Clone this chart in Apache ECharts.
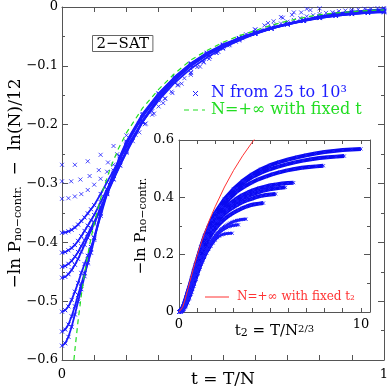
<!DOCTYPE html>
<html><head><meta charset="utf-8">
<script src="https://cdn.jsdelivr.net/npm/echarts/dist/echarts.min.js"></script>
<style>html,body{margin:0;padding:0;background:#fff}#c{width:390px;height:390px}</style>
</head><body><div id="c"></div>
<script>
// ---- data ----
const nValues = [25, 35, 50, 100, 150, 200, 250, 500, 750, 1000];
// -ln P_no-contr. at T = 0..N (small N, every clause count)
const lnP_N25 = [0, 0, 0.006, 0.017, 0.032, 0.050, 0.070, 0.091, 0.113, 0.135, 0.156, 0.174, 0.190, 0.205, 0.218, 0.230, 0.241, 0.251, 0.259, 0.265, 0.269, 0.271, 0.273, 0.274, 0.275, 0.275];
const lnP_N35 = [0, 0, 0.003, 0.009, 0.019, 0.032, 0.046, 0.062, 0.079, 0.097, 0.115, 0.133, 0.150, 0.166, 0.181, 0.195, 0.208, 0.220, 0.231, 0.241, 0.250, 0.258, 0.265, 0.272, 0.278, 0.283, 0.287, 0.291, 0.294, 0.297, 0.299, 0.301, 0.302, 0.303, 0.304, 0.304];
const lnP_N50 = [0, 0.001, 0.004, 0.008, 0.015, 0.024, 0.034, 0.046, 0.058, 0.071, 0.083, 0.098, 0.113, 0.128, 0.143, 0.157, 0.170, 0.182, 0.194, 0.205, 0.215, 0.224, 0.233, 0.241, 0.248, 0.255, 0.261, 0.267, 0.273, 0.278, 0.283, 0.287, 0.291, 0.295, 0.298, 0.301, 0.304, 0.307, 0.310, 0.312, 0.314, 0.316, 0.317, 0.319, 0.320, 0.321, 0.322, 0.323, 0.323, 0.324, 0.324];
// larger N: -ln P_no-contr. sampled at t = T/N
const tGrid = [0, 0.01, 0.02, 0.03, 0.04, 0.05, 0.06, 0.07, 0.08, 0.09, 0.10, 0.12, 0.14, 0.16, 0.18, 0.20, 0.25, 0.30, 0.35, 0.40, 0.45, 0.50, 0.55, 0.60, 0.65, 0.70, 0.75, 0.80, 0.85, 0.90, 0.95, 1.00];
const lnP_N100  = [0, 0.0006, 0.0025, 0.005, 0.009, 0.014, 0.020, 0.026, 0.033, 0.040, 0.047, 0.066, 0.086, 0.106, 0.126, 0.145, 0.189, 0.225, 0.255, 0.279, 0.298, 0.314, 0.327, 0.338, 0.347, 0.355, 0.362, 0.368, 0.373, 0.376, 0.378, 0.380];
const lnP_N150  = [0, 0.001, 0.004, 0.008, 0.013, 0.020, 0.028, 0.037, 0.046, 0.055, 0.064, 0.086, 0.108, 0.130, 0.152, 0.173, 0.222, 0.262, 0.293, 0.318, 0.336, 0.351, 0.363, 0.373, 0.382, 0.389, 0.395, 0.401, 0.405, 0.408, 0.410, 0.412];
const lnP_N200  = [0, 0.0012, 0.005, 0.010, 0.017, 0.025, 0.035, 0.045, 0.056, 0.066, 0.076, 0.101, 0.125, 0.149, 0.172, 0.194, 0.246, 0.286, 0.317, 0.341, 0.360, 0.375, 0.387, 0.397, 0.405, 0.412, 0.418, 0.424, 0.428, 0.431, 0.433, 0.435];
const lnP_N250  = [0, 0.0015, 0.006, 0.013, 0.022, 0.032, 0.044, 0.056, 0.068, 0.080, 0.092, 0.117, 0.142, 0.167, 0.191, 0.214, 0.267, 0.306, 0.337, 0.362, 0.380, 0.395, 0.407, 0.417, 0.425, 0.432, 0.437, 0.442, 0.445, 0.448, 0.450, 0.451];
const lnP_N500  = [0, 0.0025, 0.009, 0.020, 0.034, 0.049, 0.066, 0.081, 0.095, 0.110, 0.125, 0.163, 0.200, 0.231, 0.259, 0.284, 0.331, 0.367, 0.396, 0.420, 0.437, 0.451, 0.463, 0.472, 0.481, 0.488, 0.494, 0.499, 0.503, 0.506, 0.508, 0.510];
const lnP_N750  = [0, 0.0035, 0.012, 0.026, 0.043, 0.062, 0.081, 0.099, 0.116, 0.134, 0.156, 0.200, 0.237, 0.268, 0.296, 0.321, 0.368, 0.404, 0.432, 0.455, 0.473, 0.487, 0.498, 0.507, 0.515, 0.522, 0.528, 0.533, 0.537, 0.540, 0.542, 0.544];
const lnP_N1000 = [0, 0.004, 0.015, 0.032, 0.053, 0.075, 0.096, 0.118, 0.142, 0.164, 0.184, 0.226, 0.264, 0.294, 0.322, 0.347, 0.394, 0.429, 0.457, 0.480, 0.498, 0.512, 0.523, 0.532, 0.540, 0.547, 0.553, 0.558, 0.562, 0.565, 0.567, 0.569];
// N = +infinity with fixed t (main panel, green dashed)
const greenT = [0.037, 0.04, 0.05, 0.06, 0.07, 0.08, 0.09, 0.10, 0.125, 0.15, 0.175, 0.20, 0.25, 0.30, 0.35, 0.40, 0.45, 0.50, 0.55, 0.60, 0.65, 0.70, 0.75, 0.80, 0.85, 0.90, 0.95, 1.00];
const greenY = [-0.600, -0.583, -0.533, -0.490, -0.453, -0.421, -0.393, -0.368, -0.315, -0.274, -0.241, -0.214, -0.172, -0.140, -0.113, -0.090, -0.074, -0.060, -0.049, -0.040, -0.031, -0.024, -0.018, -0.013, -0.010, -0.008, -0.006, -0.005];
// N = +infinity with fixed t2 (inset, red)
const redT2 = [0, 0.1, 0.2, 0.3, 0.4, 0.5, 0.6, 0.8, 1.0, 1.2, 1.4, 1.6, 1.8, 2.0, 2.5, 3.0, 3.5, 4.0, 4.2];
const redY  = [0, 0.005, 0.017, 0.036, 0.059, 0.083, 0.107, 0.154, 0.198, 0.238, 0.275, 0.309, 0.340, 0.369, 0.436, 0.494, 0.545, 0.590, 0.607];
// tick labels
const mainXLabelValues = [0, 1];
const insetXLabelValues = [0, 10];

// ---- build ----
const curves = [
  {n: 25, vals: lnP_N25, grid: null}, {n: 35, vals: lnP_N35, grid: null}, {n: 50, vals: lnP_N50, grid: null},
  {n: 100, vals: lnP_N100, grid: tGrid}, {n: 150, vals: lnP_N150, grid: tGrid}, {n: 200, vals: lnP_N200, grid: tGrid},
  {n: 250, vals: lnP_N250, grid: tGrid}, {n: 500, vals: lnP_N500, grid: tGrid}, {n: 750, vals: lnP_N750, grid: tGrid},
  {n: 1000, vals: lnP_N1000, grid: tGrid}
];
const FONT = 'DejaVu Serif';
const cross = 'path://M0,0L10,10M10,0L0,10';
const crossStyle = {color: 'rgba(0,0,0,0)', borderColor: '#1d1dff', borderWidth: 1};
const series = [];
curves.forEach(c => {
  const L = Math.log(c.n) / 12, s = Math.cbrt(c.n);
  const tt = c.grid ? c.grid : c.vals.map((_, i) => i / c.n);
  const mainData = c.vals.map((v, i) => [tt[i], v - L]);
  const insetData = c.vals.map((v, i) => [tt[i] * s, v]);
  if (c.grid) {
    series.push({type: 'line', xAxisIndex: 0, yAxisIndex: 0, data: mainData, clip: true,
      lineStyle: {color: '#1a1aff', width: 1.8}, symbol: cross, symbolSize: 4, itemStyle: crossStyle, z: 2});
  } else {
    series.push({type: 'scatter', xAxisIndex: 0, yAxisIndex: 0, data: mainData, clip: true,
      symbol: cross, symbolSize: 4, itemStyle: crossStyle, z: 2});
  }
  series.push({type: 'line', xAxisIndex: 2, yAxisIndex: 2, data: insetData, clip: true,
    lineStyle: {color: '#0a0af0', width: c.grid ? 4 : 2.5}, symbol: cross, symbolSize: 3, itemStyle: crossStyle, z: 2});
});
series.push({type: 'line', xAxisIndex: 0, yAxisIndex: 0, data: greenT.map((t, i) => [t, greenY[i]]), clip: true,
  symbol: 'none', lineStyle: {color: '#22dd22', width: 1.2, type: [5, 4]}, z: 5});
series.push({type: 'line', xAxisIndex: 2, yAxisIndex: 2, data: redT2.map((t, i) => [t, redY[i]]), clip: true,
  symbol: 'none', lineStyle: {color: '#ff3333', width: 1}, z: 5});

const AX = '#555';
function baseAxis(extra) {
  return Object.assign({
    type: 'value', splitLine: {show: false}, nameMoveOverlap: false,
    axisLine: {show: true, onZero: false, lineStyle: {color: AX, width: 1}},
    axisTick: {show: true, inside: true, length: 5, lineStyle: {color: AX}},
  }, extra);
}
const lab = {fontFamily: FONT, fontSize: 13, color: '#000'};
const subRich = {s: {fontFamily: FONT, fontSize: 11, verticalAlign: 'bottom', lineHeight: 12, color: '#000'},
                 p: {fontFamily: FONT, fontSize: 10, verticalAlign: 'top', lineHeight: 12, color: '#000'}};

const option = {
  animation: false,
  backgroundColor: '#fff',
  grid: [
    {left: 62, top: 7, width: 322, height: 353, outerBoundsMode: 'none', containLabel: false},
    {left: 179, top: 140, width: 191, height: 172, show: true, backgroundColor: '#fff', borderWidth: 0, outerBoundsMode: 'none', containLabel: false}
  ],
  xAxis: [
    baseAxis({gridIndex: 0, position: 'bottom', min: 0, max: 1, interval: 0.1,
      axisLabel: Object.assign({showMaxLabel: true, showMinLabel: true, margin: 8,
        formatter: v => mainXLabelValues.some(x => Math.abs(x - v) < 1e-9) ? String(Math.round(v)) : ''}, lab),
      name: 't = T/N', nameLocation: 'middle', nameGap: 11,
      nameTextStyle: {fontFamily: FONT, fontSize: 17, color: '#000', verticalAlign: 'top'}}),
    baseAxis({gridIndex: 0, position: 'top', min: 0, max: 1, interval: 0.1, axisLabel: {show: false}}),
    baseAxis({gridIndex: 1, position: 'bottom', min: 0, max: 10.5, interval: 1,
      axisTick: {show: true, inside: true, length: 4, lineStyle: {color: AX}},
      axisLabel: Object.assign({showMaxLabel: false, margin: 6,
        formatter: v => insetXLabelValues.some(x => Math.abs(x - v) < 1e-9) ? String(Math.round(v)) : ''}, lab),
      name: 't{s|2} = T/N{p|2/3}', nameLocation: 'middle', nameGap: 12,
      nameTextStyle: {fontFamily: FONT, fontSize: 15, color: '#000', verticalAlign: 'top', rich: subRich}}),
    baseAxis({gridIndex: 1, position: 'top', min: 0, max: 10.5, interval: 1,
      axisTick: {show: true, inside: true, length: 4, lineStyle: {color: AX}}, axisLabel: {show: false}})
  ],
  yAxis: [
    baseAxis({gridIndex: 0, position: 'left', min: -0.6, max: 0, interval: 0.1,
      axisTick: {show: true, inside: true, length: 6, lineStyle: {color: AX}},
      minorTick: {show: true, splitNumber: 2, length: 3, lineStyle: {color: AX}},
      axisLabel: Object.assign({margin: 4, formatter: v => Math.abs(v) < 1e-9 ? '0' : '\u2212' + Math.abs(v).toFixed(1)}, lab),
      name: '\u2212ln P{s|no\u2212contr.}  \u2212  ln(N)/12', nameLocation: 'middle', nameGap: 38, nameRotate: 90,
      nameTextStyle: {fontFamily: FONT, fontSize: 17, color: '#000', rich: subRich}}),
    baseAxis({gridIndex: 0, position: 'right', min: -0.6, max: 0, interval: 0.1,
      axisTick: {show: true, inside: true, length: 6, lineStyle: {color: AX}},
      minorTick: {show: true, splitNumber: 2, length: 3, lineStyle: {color: AX}}, axisLabel: {show: false}}),
    baseAxis({gridIndex: 1, position: 'left', min: 0, max: 0.6, interval: 0.2,
      axisTick: {show: true, inside: true, length: 6, lineStyle: {color: AX}},
      minorTick: {show: true, splitNumber: 2, length: 3, lineStyle: {color: AX}},
      axisLabel: Object.assign({margin: 5, formatter: v => Math.abs(v) < 1e-9 ? '0' : v.toFixed(1)}, lab),
      name: '\u2212ln P{s|no\u2212contr.}', nameLocation: 'middle', nameGap: 30, nameRotate: 90,
      nameTextStyle: {fontFamily: FONT, fontSize: 15, color: '#000', rich: subRich}}),
    baseAxis({gridIndex: 1, position: 'right', min: 0, max: 0.6, interval: 0.2,
      axisTick: {show: true, inside: true, length: 6, lineStyle: {color: AX}},
      minorTick: {show: true, splitNumber: 2, length: 3, lineStyle: {color: AX}}, axisLabel: {show: false}})
  ],
  graphic: [
    {type: 'text', left: 92, top: 35, style: {text: '2\u2212SAT', font: '15px "DejaVu Serif"', fill: '#000',
      borderColor: '#666', borderWidth: 1, padding: [1, 4, 0, 4]}},
    {type: 'line', shape: {x1: 193, y1: 91, x2: 198, y2: 96}, style: {stroke: '#1d1dff', lineWidth: 1}},
    {type: 'line', shape: {x1: 198, y1: 91, x2: 193, y2: 96}, style: {stroke: '#1d1dff', lineWidth: 1}},
    {type: 'text', x: 211, y: 93, style: {text: 'N from 25 to 10\u00b3', font: '16px "DejaVu Serif"', fill: '#1d1dff', verticalAlign: 'middle', align: 'left'}},
    {type: 'line', shape: {x1: 184, y1: 110, x2: 205, y2: 110}, style: {stroke: '#22dd22', lineWidth: 1.2, lineDash: [5, 4]}},
    {type: 'text', x: 211, y: 110, style: {text: 'N=+\u221e with fixed t', font: '16px "DejaVu Serif"', fill: '#22dd22', verticalAlign: 'middle', align: 'left'}},
    {type: 'line', shape: {x1: 205, y1: 297, x2: 229, y2: 297}, style: {stroke: '#ff3333', lineWidth: 1}, z: 10},
    {type: 'text', x: 237, y: 297, z: 10, style: {text: 'N=+\u221e with fixed t\u2082', font: '12px "DejaVu Serif"', fill: '#ff3333', verticalAlign: 'middle', align: 'left'}}
  ],
  series: series
};
const chart = echarts.init(document.getElementById('c'), null, {renderer: 'canvas'});
chart.setOption(option);
</script></body></html>
